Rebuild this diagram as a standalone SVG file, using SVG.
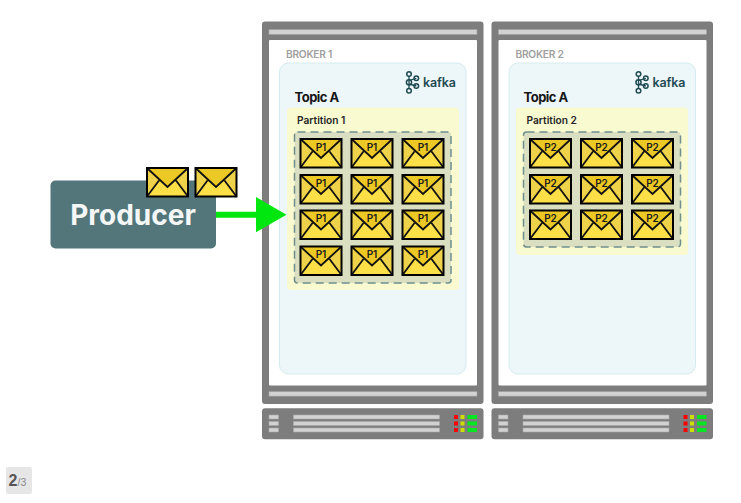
<svg xmlns="http://www.w3.org/2000/svg" xmlns:xlink="http://www.w3.org/1999/xlink" width="741" height="503" viewBox="0 0 741 503">
  <style>
    .frame { fill: #7d7d7d; }
    .bay { fill: #ffffff; }
    .slot { fill: #d2d2d2; stroke: #a8a8a8; stroke-width: 0.6; }
    .panel { fill: #edf6f9; stroke: #d5ebef; stroke-width: 1; }
    .part { fill: #f9fad0; }
    .tray { fill: #d9dfc0; stroke: #6f8f8f; stroke-width: 1.5; stroke-dasharray: 8 5; }
    .broker { font: 600 10.2px Inter, "Liberation Sans", sans-serif; fill: #a0a0a0; letter-spacing: -0.25px; }
    .topic { font: 700 13px Inter, "Liberation Sans", sans-serif; fill: #171717; letter-spacing: -0.5px; }
    .ptitle { font: 600 10.2px Inter, "Liberation Sans", sans-serif; fill: #262626; }
    .tag { font: 600 10px Inter, "Liberation Sans", sans-serif; fill: #1a1a1a; text-anchor: middle; }
    .brand { font: 600 12.5px Inter, "Liberation Sans", sans-serif; fill: #1f4a52; letter-spacing: -0.1px; }
    .logo circle { fill: none; stroke: #1f4a52; stroke-width: 1.5; }
    .logo path { fill: none; stroke: #1f4a52; stroke-width: 1.3; }
  </style>
  <defs>
    <g id="env">
      <rect x="1" y="1" width="41" height="28.5" fill="#eed24a"/>
      <path d="M1 1H42L21.5 20Z" fill="#ecc824"/>
      <path d="M1 29.5L13 13L21.5 20L30 13L42 29.5Z" fill="#fde047"/>
      <path d="M1 1L21.5 20L42 1M1 29.5L13 13.5M42 29.5L30 13.5" fill="none" stroke="#111" stroke-width="1.8"/>
      <rect x="1" y="1" width="41" height="28.5" fill="none" stroke="#000" stroke-width="2"/>
    </g>
    <g id="logo" class="logo">
      <path d="M5 5V18M5 9.5L12.3 7.3M5 13L12.3 15"/>
      <circle cx="5" cy="3" r="2.3"/><circle cx="5" cy="11.3" r="2.6"/><circle cx="5" cy="19.7" r="2.3"/>
      <circle cx="12.3" cy="7.3" r="2.3"/><circle cx="12.3" cy="15" r="2.3"/>
    </g>
    <g id="chassis">
      <rect class="frame" x="0" y="0" width="221.5" height="382.5" rx="3"/>
      <rect class="bay" x="7" y="18.5" width="208" height="345.5" rx="1"/>
      <rect class="slot" x="7" y="8.2" width="208" height="4.6"/>
      <rect class="slot" x="7" y="370.2" width="208" height="4.4"/>
      <rect class="frame" x="0" y="386.8" width="221.5" height="31" rx="3"/>
      <rect class="slot" x="7" y="393.5" width="9.5" height="4"/>
      <rect class="slot" x="7" y="400" width="9.5" height="4"/>
      <rect class="slot" x="7" y="406.5" width="9.5" height="4"/>
      <rect class="slot" x="31.5" y="393.5" width="146" height="4"/>
      <rect class="slot" x="31.5" y="400" width="146" height="4"/>
      <rect class="slot" x="31.5" y="406.5" width="146" height="4"/>
      <g fill="#ff0000">
        <rect x="192" y="393.5" width="4" height="4"/><rect x="192" y="400" width="4" height="4"/><rect x="192" y="406.5" width="4" height="4"/>
      </g>
      <g fill="#cce000">
        <rect x="198.5" y="393.5" width="4" height="4"/><rect x="198.5" y="400" width="4" height="4"/><rect x="198.5" y="406.5" width="4" height="4"/>
      </g>
      <g fill="#00e620">
        <rect x="205.5" y="393.5" width="9.5" height="4"/><rect x="205.5" y="400" width="9.5" height="4"/><rect x="205.5" y="406.5" width="9.5" height="4"/>
      </g>
    </g>
  </defs>

  <g id="broker-1">
    <use href="#chassis" x="262" y="21.5"/>
    <text class="broker" x="286" y="57.8">BROKER 1</text>
    <rect class="panel" x="279.5" y="63" width="186.5" height="311" rx="9"/>
    <use href="#logo" x="404" y="71"/>
    <text class="brand" x="423" y="87">kafka</text>
    <text class="topic" x="294.5" y="102">Topic A</text>
    <rect class="part" x="287" y="107.5" width="172" height="182.5" rx="4"/>
    <text class="ptitle" x="297" y="124">Partition 1</text>
    <rect class="tray" x="294.5" y="132" width="156.5" height="151" rx="3"/>
    <g id="p1-messages">
      <use href="#env" x="299.5" y="138"/><use href="#env" x="350.5" y="138"/><use href="#env" x="401.5" y="138"/>
      <use href="#env" x="299.5" y="174"/><use href="#env" x="350.5" y="174"/><use href="#env" x="401.5" y="174"/>
      <use href="#env" x="299.5" y="209.5"/><use href="#env" x="350.5" y="209.5"/><use href="#env" x="401.5" y="209.5"/>
      <use href="#env" x="299.5" y="245.5"/><use href="#env" x="350.5" y="245.5"/><use href="#env" x="401.5" y="245.5"/>
      <text class="tag" x="321" y="150.5">P1</text><text class="tag" x="372" y="150.5">P1</text><text class="tag" x="423" y="150.5">P1</text>
      <text class="tag" x="321" y="186.5">P1</text><text class="tag" x="372" y="186.5">P1</text><text class="tag" x="423" y="186.5">P1</text>
      <text class="tag" x="321" y="222">P1</text><text class="tag" x="372" y="222">P1</text><text class="tag" x="423" y="222">P1</text>
      <text class="tag" x="321" y="258">P1</text><text class="tag" x="372" y="258">P1</text><text class="tag" x="423" y="258">P1</text>
    </g>
  </g>

  <g id="broker-2">
    <use href="#chassis" x="491.5" y="21.5"/>
    <text class="broker" x="515.5" y="57.8">BROKER 2</text>
    <rect class="panel" x="509" y="63" width="186.5" height="311" rx="9"/>
    <use href="#logo" x="633.5" y="71"/>
    <text class="brand" x="652.5" y="87">kafka</text>
    <text class="topic" x="523.5" y="102">Topic A</text>
    <rect class="part" x="516" y="107.5" width="172" height="147.5" rx="4"/>
    <text class="ptitle" x="526.5" y="124">Partition 2</text>
    <rect class="tray" x="523.5" y="132" width="157" height="115" rx="3"/>
    <g id="p2-messages">
      <use href="#env" x="529" y="138"/><use href="#env" x="580" y="138"/><use href="#env" x="631" y="138"/>
      <use href="#env" x="529" y="174"/><use href="#env" x="580" y="174"/><use href="#env" x="631" y="174"/>
      <use href="#env" x="529" y="209.5"/><use href="#env" x="580" y="209.5"/><use href="#env" x="631" y="209.5"/>
      <text class="tag" x="550.5" y="150.5">P2</text><text class="tag" x="601.5" y="150.5">P2</text><text class="tag" x="652.5" y="150.5">P2</text>
      <text class="tag" x="550.5" y="186.5">P2</text><text class="tag" x="601.5" y="186.5">P2</text><text class="tag" x="652.5" y="186.5">P2</text>
      <text class="tag" x="550.5" y="222">P2</text><text class="tag" x="601.5" y="222">P2</text><text class="tag" x="652.5" y="222">P2</text>
    </g>
  </g>

  <g id="producer">
    <rect x="50.5" y="180.5" width="165.5" height="68" rx="5" fill="#52767a"/>
    <text x="133" y="225" text-anchor="middle" font-family="Inter, 'Liberation Sans', sans-serif" font-weight="700" font-size="28" fill="#f5f7f7">Producer</text>
    <use href="#env" x="146" y="167"/>
    <use href="#env" x="194.5" y="167"/>
  </g>

  <g id="connectors">
    <path d="M216 211.7H256V197L286.5 214.7L256 232.3V217.7H216Z" fill="#00e60f"/>
  </g>

  <g id="page-badge">
    <rect x="6" y="467" width="26" height="27" rx="2" fill="#e6e6e6"/>
    <text x="8.5" y="486" font-family="'Liberation Sans', Arial, sans-serif" font-weight="700" font-size="16" fill="#555555">2</text>
    <text x="17.5" y="486" font-family="'Liberation Sans', Arial, sans-serif" font-size="10.5" fill="#8a8a8a">/3</text>
  </g>
</svg>
